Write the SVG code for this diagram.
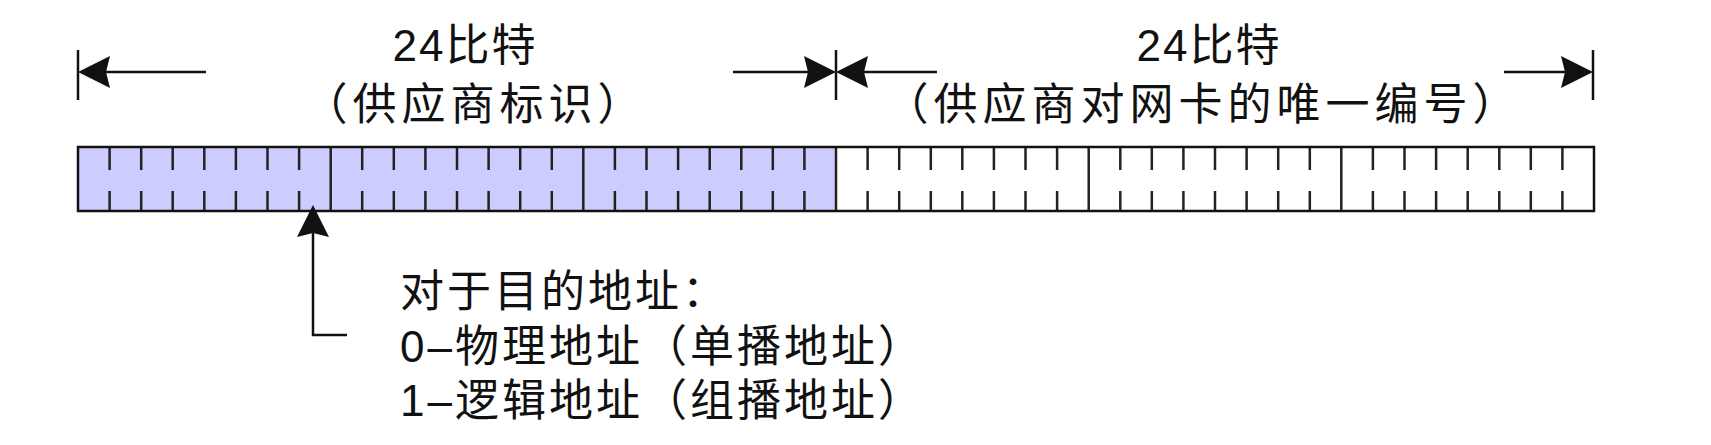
<svg xmlns="http://www.w3.org/2000/svg" width="1711" height="445" viewBox="0 0 1711 445">
<style>
.t{font-family:"Liberation Sans","Noto Sans CJK SC",sans-serif;font-size:44px;fill:#111}
.top{letter-spacing:5px}
.num{letter-spacing:2px}
.bot{letter-spacing:3px}
.ln{stroke:#111;stroke-width:2.5;fill:none}
.tk{stroke:#222;stroke-width:2.5}
.ah{fill:#111}
</style>
<defs>
<polygon id="headL" points="0,0 32,-16 28,0 32,16" class="ah"/>
</defs>
<g id="field">
<rect x="78" y="147" width="758" height="64" fill="#ccccff"/>
<rect x="836" y="147" width="758" height="64" fill="#ffffff"/>
<g class="tk">
<line x1="109.6" y1="147" x2="109.6" y2="170"/><line x1="109.6" y1="191" x2="109.6" y2="211"/>
<line x1="141.2" y1="147" x2="141.2" y2="170"/><line x1="141.2" y1="191" x2="141.2" y2="211"/>
<line x1="172.7" y1="147" x2="172.7" y2="170"/><line x1="172.7" y1="191" x2="172.7" y2="211"/>
<line x1="204.3" y1="147" x2="204.3" y2="170"/><line x1="204.3" y1="191" x2="204.3" y2="211"/>
<line x1="235.9" y1="147" x2="235.9" y2="170"/><line x1="235.9" y1="191" x2="235.9" y2="211"/>
<line x1="267.5" y1="147" x2="267.5" y2="170"/><line x1="267.5" y1="191" x2="267.5" y2="211"/>
<line x1="299.1" y1="147" x2="299.1" y2="170"/><line x1="299.1" y1="191" x2="299.1" y2="211"/>
<line x1="330.7" y1="147" x2="330.7" y2="211"/>
<line x1="362.2" y1="147" x2="362.2" y2="170"/><line x1="362.2" y1="191" x2="362.2" y2="211"/>
<line x1="393.8" y1="147" x2="393.8" y2="170"/><line x1="393.8" y1="191" x2="393.8" y2="211"/>
<line x1="425.4" y1="147" x2="425.4" y2="170"/><line x1="425.4" y1="191" x2="425.4" y2="211"/>
<line x1="457.0" y1="147" x2="457.0" y2="170"/><line x1="457.0" y1="191" x2="457.0" y2="211"/>
<line x1="488.6" y1="147" x2="488.6" y2="170"/><line x1="488.6" y1="191" x2="488.6" y2="211"/>
<line x1="520.2" y1="147" x2="520.2" y2="170"/><line x1="520.2" y1="191" x2="520.2" y2="211"/>
<line x1="551.8" y1="147" x2="551.8" y2="170"/><line x1="551.8" y1="191" x2="551.8" y2="211"/>
<line x1="583.3" y1="147" x2="583.3" y2="211"/>
<line x1="614.9" y1="147" x2="614.9" y2="170"/><line x1="614.9" y1="191" x2="614.9" y2="211"/>
<line x1="646.5" y1="147" x2="646.5" y2="170"/><line x1="646.5" y1="191" x2="646.5" y2="211"/>
<line x1="678.1" y1="147" x2="678.1" y2="170"/><line x1="678.1" y1="191" x2="678.1" y2="211"/>
<line x1="709.7" y1="147" x2="709.7" y2="170"/><line x1="709.7" y1="191" x2="709.7" y2="211"/>
<line x1="741.3" y1="147" x2="741.3" y2="170"/><line x1="741.3" y1="191" x2="741.3" y2="211"/>
<line x1="772.8" y1="147" x2="772.8" y2="170"/><line x1="772.8" y1="191" x2="772.8" y2="211"/>
<line x1="804.4" y1="147" x2="804.4" y2="170"/><line x1="804.4" y1="191" x2="804.4" y2="211"/>
<line x1="836.0" y1="147" x2="836.0" y2="211"/>
<line x1="867.6" y1="147" x2="867.6" y2="170"/><line x1="867.6" y1="191" x2="867.6" y2="211"/>
<line x1="899.2" y1="147" x2="899.2" y2="170"/><line x1="899.2" y1="191" x2="899.2" y2="211"/>
<line x1="930.8" y1="147" x2="930.8" y2="170"/><line x1="930.8" y1="191" x2="930.8" y2="211"/>
<line x1="962.3" y1="147" x2="962.3" y2="170"/><line x1="962.3" y1="191" x2="962.3" y2="211"/>
<line x1="993.9" y1="147" x2="993.9" y2="170"/><line x1="993.9" y1="191" x2="993.9" y2="211"/>
<line x1="1025.5" y1="147" x2="1025.5" y2="170"/><line x1="1025.5" y1="191" x2="1025.5" y2="211"/>
<line x1="1057.1" y1="147" x2="1057.1" y2="170"/><line x1="1057.1" y1="191" x2="1057.1" y2="211"/>
<line x1="1088.7" y1="147" x2="1088.7" y2="211"/>
<line x1="1120.3" y1="147" x2="1120.3" y2="170"/><line x1="1120.3" y1="191" x2="1120.3" y2="211"/>
<line x1="1151.8" y1="147" x2="1151.8" y2="170"/><line x1="1151.8" y1="191" x2="1151.8" y2="211"/>
<line x1="1183.4" y1="147" x2="1183.4" y2="170"/><line x1="1183.4" y1="191" x2="1183.4" y2="211"/>
<line x1="1215.0" y1="147" x2="1215.0" y2="170"/><line x1="1215.0" y1="191" x2="1215.0" y2="211"/>
<line x1="1246.6" y1="147" x2="1246.6" y2="170"/><line x1="1246.6" y1="191" x2="1246.6" y2="211"/>
<line x1="1278.2" y1="147" x2="1278.2" y2="170"/><line x1="1278.2" y1="191" x2="1278.2" y2="211"/>
<line x1="1309.8" y1="147" x2="1309.8" y2="170"/><line x1="1309.8" y1="191" x2="1309.8" y2="211"/>
<line x1="1341.3" y1="147" x2="1341.3" y2="211"/>
<line x1="1372.9" y1="147" x2="1372.9" y2="170"/><line x1="1372.9" y1="191" x2="1372.9" y2="211"/>
<line x1="1404.5" y1="147" x2="1404.5" y2="170"/><line x1="1404.5" y1="191" x2="1404.5" y2="211"/>
<line x1="1436.1" y1="147" x2="1436.1" y2="170"/><line x1="1436.1" y1="191" x2="1436.1" y2="211"/>
<line x1="1467.7" y1="147" x2="1467.7" y2="170"/><line x1="1467.7" y1="191" x2="1467.7" y2="211"/>
<line x1="1499.3" y1="147" x2="1499.3" y2="170"/><line x1="1499.3" y1="191" x2="1499.3" y2="211"/>
<line x1="1530.8" y1="147" x2="1530.8" y2="170"/><line x1="1530.8" y1="191" x2="1530.8" y2="211"/>
<line x1="1562.4" y1="147" x2="1562.4" y2="170"/><line x1="1562.4" y1="191" x2="1562.4" y2="211"/>
</g>
<rect x="78" y="147" width="1516" height="64" class="ln"/>
</g>
<g id="label-left">
<text class="t num" x="465" y="61" text-anchor="middle">24比特</text>
<text class="t top" x="475" y="120" text-anchor="middle">（供应商标识）</text>
</g>
<g id="label-right">
<text class="t num" x="1209" y="61" text-anchor="middle">24比特</text>
<text class="t top" x="1203" y="120" text-anchor="middle">（供应商对网卡的唯一编号）</text>
</g>
<g id="note">
<text class="t bot" x="400" y="307">对于目的地址：</text>
<text class="t bot" x="400" y="362">0–物理地址（单播地址）</text>
<text class="t bot" x="400" y="416">1–逻辑地址（组播地址）</text>
</g>
<g id="connectors">
<line class="ln" x1="78" y1="50" x2="78" y2="100"/>
<line class="ln" x1="836" y1="50" x2="836" y2="100"/>
<line class="ln" x1="1593" y1="50" x2="1593" y2="100"/>
<line class="ln" x1="100" y1="72" x2="206" y2="72"/>
<use href="#headL" transform="translate(78,72)"/>
<line class="ln" x1="733" y1="72" x2="815" y2="72"/>
<use href="#headL" transform="translate(836,72) rotate(180)"/>
<line class="ln" x1="857" y1="72" x2="937" y2="72"/>
<use href="#headL" transform="translate(836,72)"/>
<line class="ln" x1="1504" y1="72" x2="1572" y2="72"/>
<use href="#headL" transform="translate(1593,72) rotate(180)"/>
<polyline class="ln" points="313,228 313,335 347,335"/>
<use href="#headL" transform="translate(313,205) rotate(90)"/>
</g>
</svg>
